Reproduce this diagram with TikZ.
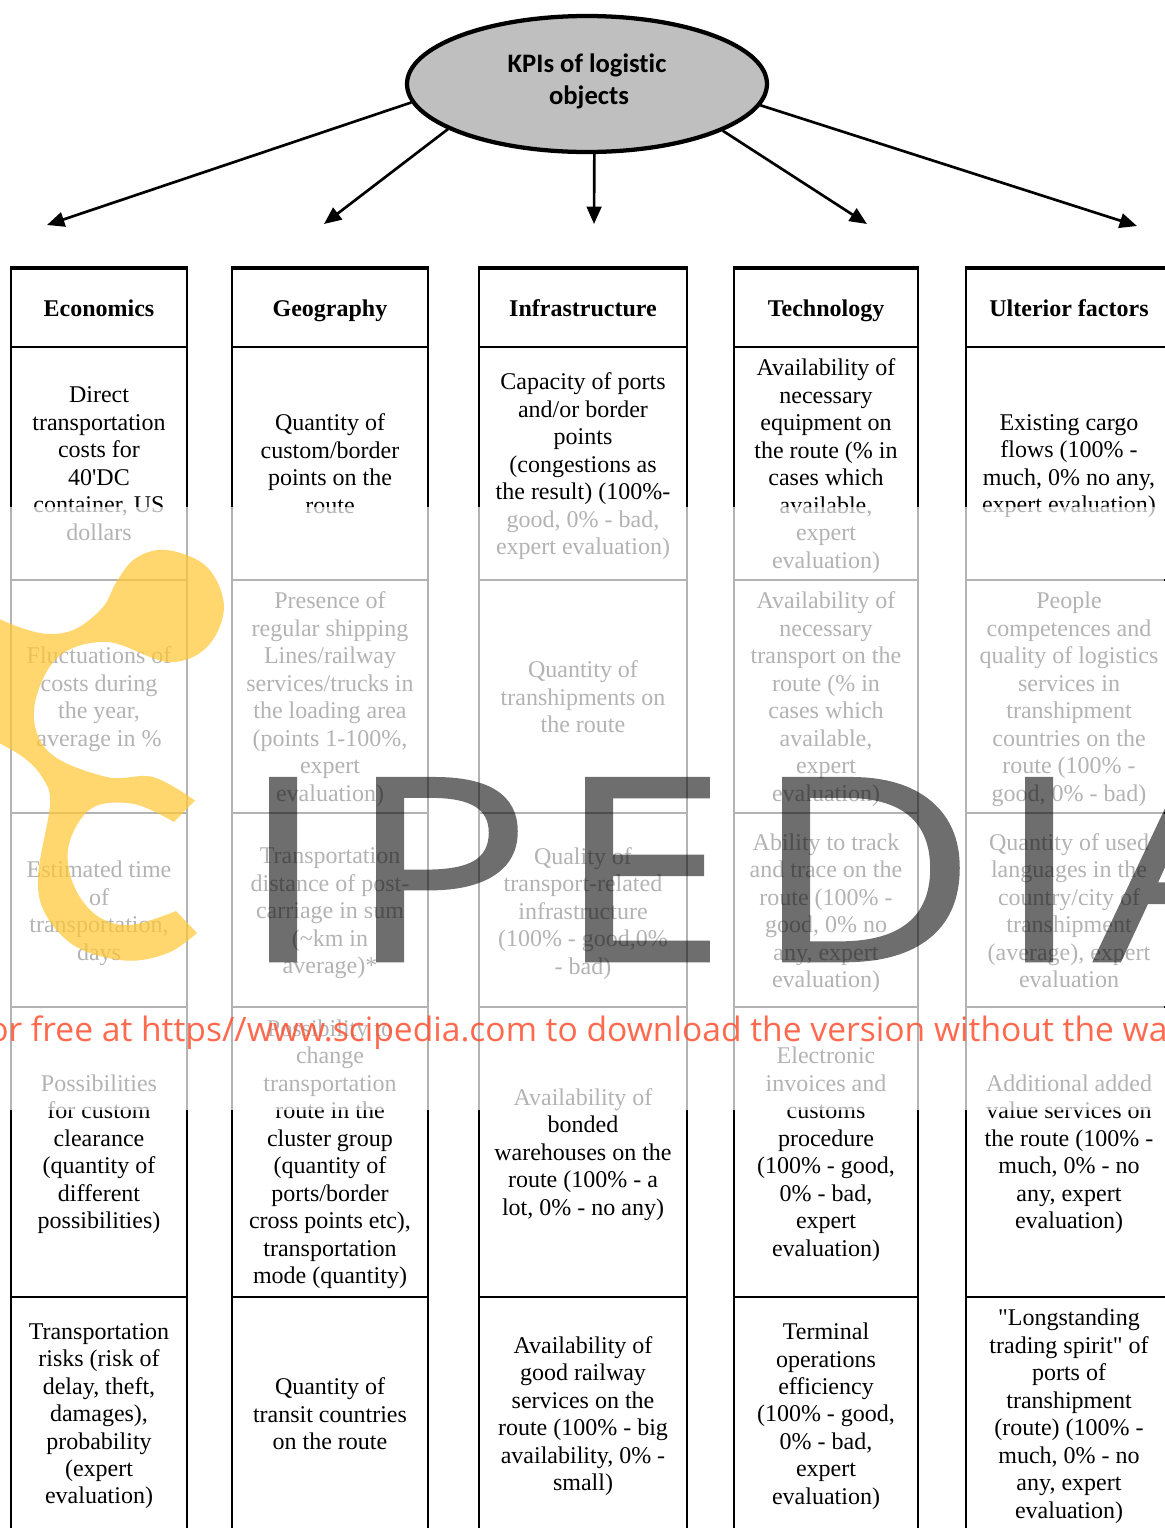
\documentclass[tikz,border=0pt]{standalone}
\usepackage{fontspec}
\setmainfont{Liberation Serif}
\newfontfamily\kpifont[Ligatures=NoCommon]{Carlito}
\newfontfamily\wmfont{Open Sans}
\newfontfamily\wmbig[FakeBold=1,FakeStretch=1.2]{Open Sans}
\usetikzlibrary{shapes.geometric,arrows.meta}
\definecolor{kpigray}{HTML}{BFBFBF}
\definecolor{logoyellow}{HTML}{FFC731}
\definecolor{wmred}{HTML}{FF5030}
\tikzset{
    boxline/.style={line width=1.8pt,black},
    headline/.style={line width=2.4pt,black},
    cell/.style={inner sep=0pt,align=center,yshift=-2.8pt,font=\fontsize{18}{20.6}\selectfont,
        execute at begin node=\strut,execute at end node=\strut},
    head/.style={cell,yshift=0.6pt,font=\fontsize{18}{20.6}\selectfont\bfseries},
    kpinode/.style={ellipse,draw=black,line width=3.2pt,fill=kpigray,inner sep=0pt,
        minimum width=270pt,minimum height=102pt,align=center,
        font=\fontsize{20}{24}\selectfont\kpifont\bfseries},
    kpiarrow/.style={line width=2pt,-{Triangle[length=13pt,width=11pt]}},
    wmletter/.style={inner sep=0pt,anchor=base west,text=black,
        font=\fontsize{192}{192}\selectfont\wmbig},
}
\begin{document}
\begin{tikzpicture}[x=0.75pt,y=-0.75pt]
    \useasboundingbox (0,0) rectangle (1164,1528);

    %KPI Ellipse
    \node[kpinode] (kpi) at (587,84) {\raisebox{2.3pt}[\height][\depth]{\parbox{130pt}{\centering KPIs of logistic\\\hspace*{3pt}objects}}};

    %Arrow Ends
    \coordinate (econEnd) at (47,225);
    \coordinate (geoEnd) at (324,224);
    \coordinate (infraEnd) at (594,224);
    \coordinate (techEnd) at (867,224);
    \coordinate (ultEnd) at (1137,226);

    \draw[kpiarrow] (kpi.186) -- (econEnd);
    \draw[kpiarrow] (kpi.198) -- (geoEnd);
    \draw[kpiarrow] (kpi.276) -- (infraEnd);
    \draw[kpiarrow] (kpi.341.7) -- (techEnd);
    \draw[kpiarrow] (kpi.353.3) -- (ultEnd);

    %Economics Box
    \draw[boxline] (11,268) -- (11,1540);
    \draw[boxline] (187,268) -- (187,1540);
    \draw[headline] (10,268) -- (188,268);
    \draw[boxline] (11,347) -- (187,347);
    \draw[boxline] (11,580) -- (187,580);
    \draw[boxline] (11,813) -- (187,813);
    \draw[boxline] (11,1007) -- (187,1007);
    \draw[boxline] (11,1297) -- (187,1297);

    %Geography Box
    \draw[boxline] (232,268) -- (232,1540);
    \draw[boxline] (428,268) -- (428,1540);
    \draw[headline] (231,268) -- (429,268);
    \draw[boxline] (232,347) -- (428,347);
    \draw[boxline] (232,580) -- (428,580);
    \draw[boxline] (232,813) -- (428,813);
    \draw[boxline] (232,1007) -- (428,1007);
    \draw[boxline] (232,1297) -- (428,1297);

    %Infrastructure Box
    \draw[boxline] (479,268) -- (479,1540);
    \draw[boxline] (687,268) -- (687,1540);
    \draw[headline] (478,268) -- (688,268);
    \draw[boxline] (479,347) -- (687,347);
    \draw[boxline] (479,580) -- (687,580);
    \draw[boxline] (479,813) -- (687,813);
    \draw[boxline] (479,1007) -- (687,1007);
    \draw[boxline] (479,1297) -- (687,1297);

    %Technology Box
    \draw[boxline] (734,268) -- (734,1540);
    \draw[boxline] (918,268) -- (918,1540);
    \draw[headline] (733,268) -- (919,268);
    \draw[boxline] (734,347) -- (918,347);
    \draw[boxline] (734,580) -- (918,580);
    \draw[boxline] (734,813) -- (918,813);
    \draw[boxline] (734,1007) -- (918,1007);
    \draw[boxline] (734,1297) -- (918,1297);

    %Ulterior Box
    \draw[boxline] (966,268) -- (966,1540);
    \draw[headline] (965,268) -- (1170,268);
    \draw[boxline] (966,347) -- (1170,347);
    \draw[boxline] (966,580) -- (1170,580);
    \draw[boxline] (966,813) -- (1170,813);
    \draw[boxline] (966,1007) -- (1170,1007);
    \draw[boxline] (966,1297) -- (1170,1297);

    %Column Heads
    \node[head] (econHead) at (99,308) {Economics};
    \node[head] (geoHead) at (330,308) {Geography};
    \node[head] (infraHead) at (583,308) {Infrastructure};
    \node[head] (techHead) at (826,308) {Technology};
    \node[head] (ultHead) at (1069,308) {Ulterior factors};

    %Economics Cells
    \node[cell] (econA) at (99,464) {Direct\\transportation\\costs for\\40\textquotesingle DC\\container, US\\dollars};
    \node[cell] (econB) at (99,697) {Fluctuations of\\costs during\\the year,\\average in \%};
    \node[cell] (econC) at (99,911) {Estimated time\\of\\transportation,\\days};
    \node[cell] (econD) at (99,1152) {Possibilities\\for custom\\clearance\\(quantity of\\different\\possibilities)};
    \node[cell] (econE) at (99,1414) {Transportation\\risks (risk of\\delay, theft,\\damages),\\probability\\(expert\\evaluation)};

    %Geography Cells
    \node[cell] (geoA) at (330,464) {Quantity of\\custom/border\\points on the\\route};
    \node[cell] (geoB) at (330,697) {Presence of\\regular shipping\\Lines/railway\\services/trucks in\\the loading area\\(points 1-100\%,\\expert\\evaluation)};
    \node[cell] (geoC) at (330,911) {Transportation\\distance of post-\\carriage in sum\\(\textasciitilde km in\\average)*};
    \node[cell] (geoD) at (330,1152) {Possibility to\\change\\transportation\\route in the\\cluster group\\(quantity of\\ports/border\\cross points etc),\\transportation\\mode (quantity)};
    \node[cell] (geoE) at (330,1414) {Quantity of\\transit countries\\on the route};

    %Infrastructure Cells
    \node[cell] (infraA) at (583,464) {Capacity of ports\\and/or border\\points\\(congestions as\\the result) (100\%-\\good, 0\% - bad,\\expert evaluation)};
    \node[cell] (infraB) at (583,697) {Quantity of\\transhipments on\\the route};
    \node[cell] (infraC) at (583,911) {Quality of\\transport-related\\infrastructure\\(100\% - good,0\%\\- bad)};
    \node[cell] (infraD) at (583,1152) {Availability of\\bonded\\warehouses on the\\route (100\% - a\\lot, 0\% - no any)};
    \node[cell] (infraE) at (583,1414) {Availability of\\good railway\\services on the\\route (100\% - big\\availability, 0\% -\\small)};

    %Technology Cells
    \node[cell] (techA) at (826,464) {Availability of\\necessary\\equipment on\\the route (\% in\\cases which\\available,\\expert\\evaluation)};
    \node[cell] (techB) at (826,697) {Availability of\\necessary\\transport on the\\route (\% in\\cases which\\available,\\expert\\evaluation)};
    \node[cell] (techC) at (826,911) {Ability to track\\and trace on the\\route (100\% -\\good, 0\% no\\any, expert\\evaluation)};
    \node[cell] (techD) at (826,1152) {Electronic\\invoices and\\customs\\procedure\\(100\% - good,\\0\% - bad,\\expert\\evaluation)};
    \node[cell] (techE) at (826,1414) {Terminal\\operations\\efficiency\\(100\% - good,\\0\% - bad,\\expert\\evaluation)};

    %Ulterior Cells
    \node[cell] (ultA) at (1069,464) {Existing cargo\\flows (100\% -\\much, 0\% no any,\\expert evaluation)};
    \node[cell] (ultB) at (1069,697) {People\\competences and\\quality of logistics\\services in\\transhipment\\countries on the\\route (100\% -\\good, 0\% - bad)};
    \node[cell] (ultC) at (1069,911) {Quantity of used\\languages in the\\country/city of\\transhipment\\(average), expert\\evaluation};
    \node[cell] (ultD) at (1069,1152) {Additional added\\value services on\\the route (100\% -\\much, 0\% - no\\any, expert\\evaluation)};
    \node[cell] (ultE) at (1069,1414) {\textquotedbl Longstanding\\trading spirit\textquotedbl{} of\\ports of\\transhipment\\(route) (100\% -\\much, 0\% - no\\any, expert\\evaluation)};

    %Veil
    \fill[white,opacity=0.7] (0,507) rectangle (1164,1110);

    %Logo Mark
    \fill[logoyellow,opacity=0.7]
        plot[smooth,tension=0.6] coordinates {(-5,617) (23,628.5) (50,634) (76.5,628.5) (103,607) (117,581) (136,558) (167,550) (207,567) (224,607) (207,647) (168,662) (107,642) (57,658) (34,710) (50,753) (107,777) (153,777) (195,800.5)}
        -- plot[smooth,tension=0.6] coordinates {(174,822) (134,804) (92,808) (69,844) (73,883.5) (96,915) (130,925) (176,911)}
        -- plot[smooth,tension=0.6] coordinates {(197,933) (168,953) (126,960.6) (76.5,947) (46,915) (38,876) (50,804) (42,777) (23,757) (-5,741)}
        -- cycle;

    %Logo Letters
    \begin{scope}[transparency group,opacity=0.57]
    \node[wmletter] (wmI) at (240,961) {I};
    \node[wmletter] (wmP) at (347,961) {P};
    \node[wmletter] (wmE) at (556,961) {E};
    \node[wmletter] (wmD) at (753,961) {D};
    \node[wmletter] (wmJ) at (996,961) {I};
    \node[wmletter] (wmA) at (1094,961) {A};
    \end{scope}

    %Notice Line
    \node[inner sep=0pt,anchor=base west,text=wmred,text opacity=0.85,font=\fontsize{25.2}{25.2}\selectfont\wmfont] (notice) at (-12,1041) {or free at https//www.scipedia.com to download the version without the wa};
\end{tikzpicture}
\end{document}
